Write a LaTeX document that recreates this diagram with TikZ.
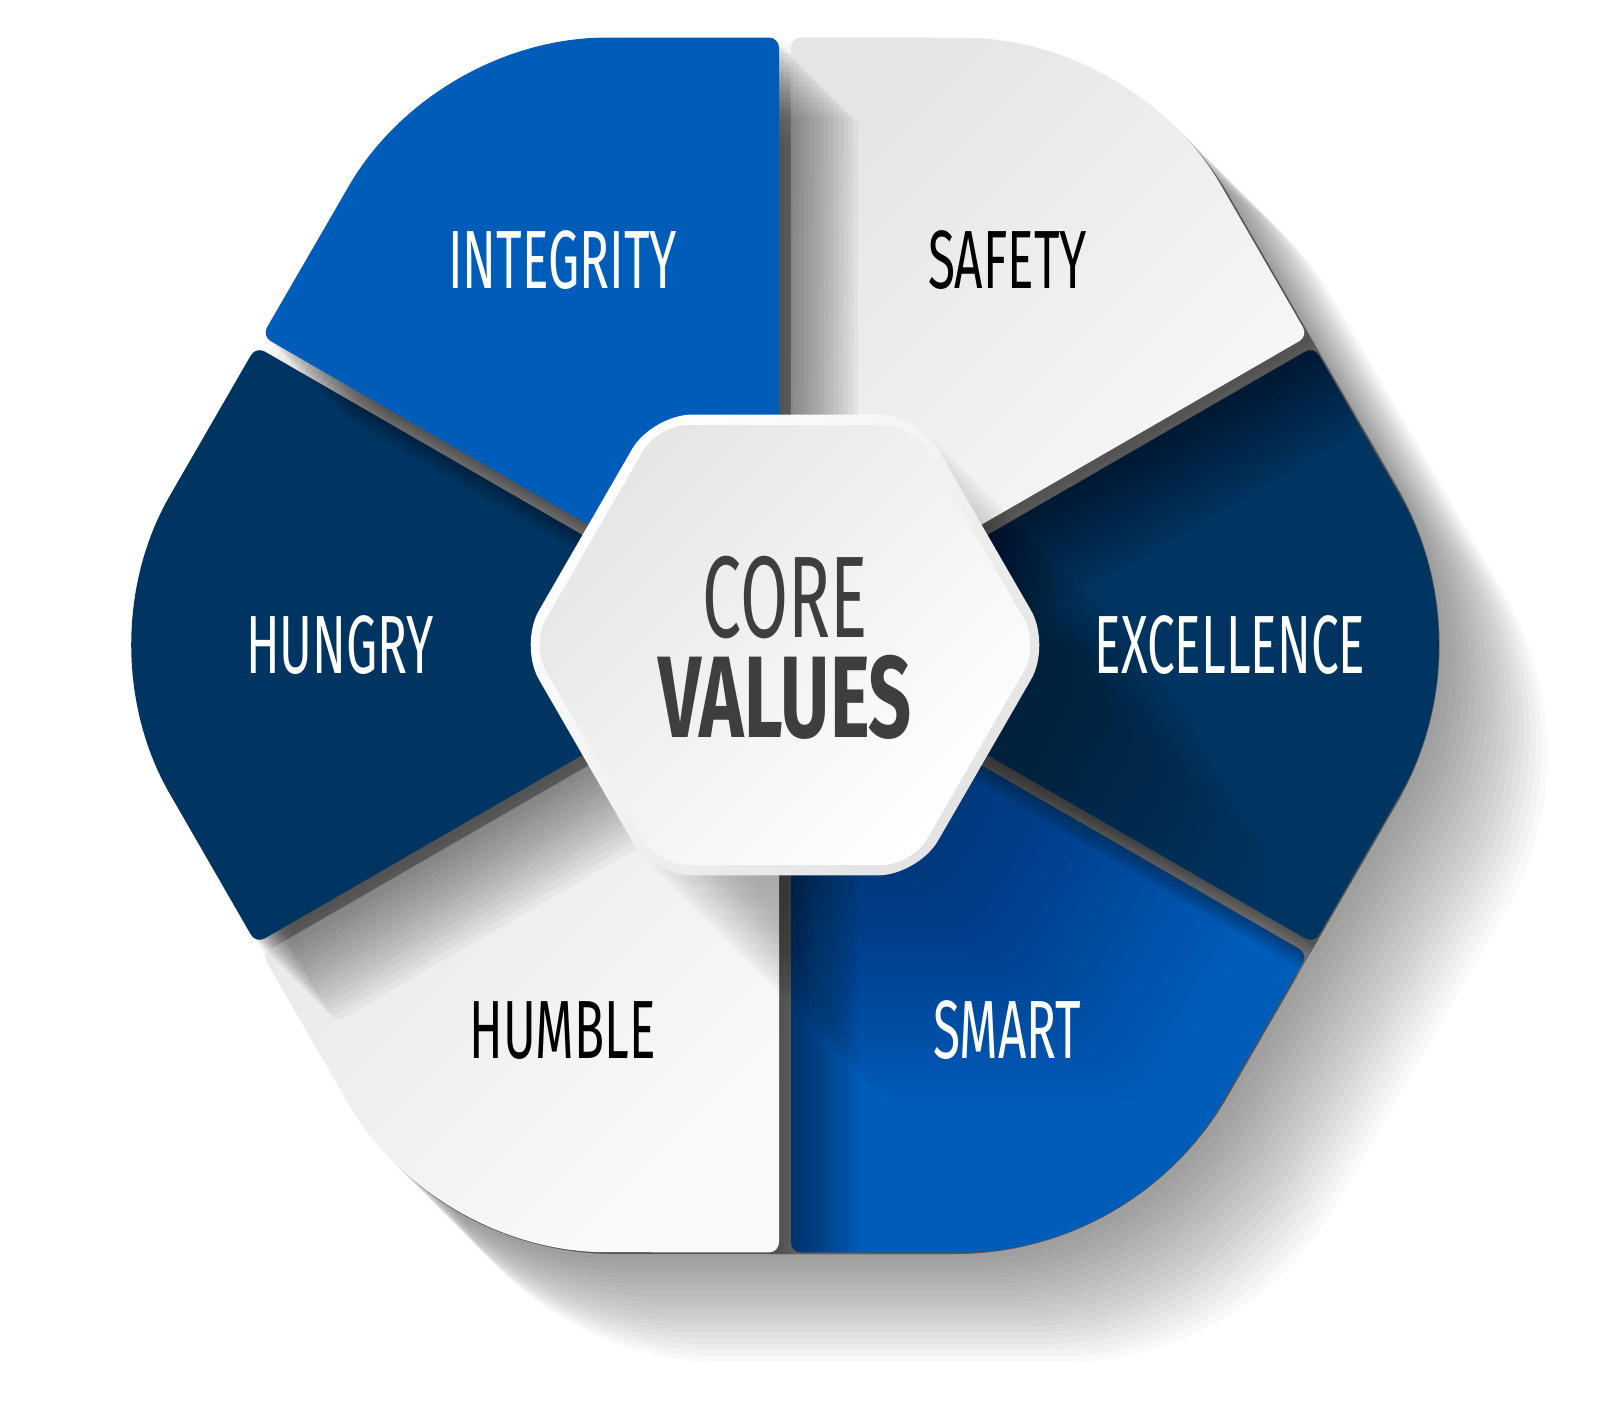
\documentclass[tikz,border=0pt]{standalone}
\usepackage{fontspec}
\newfontfamily\labelfont{Fira Sans}[FakeStretch=0.6]
\newfontfamily\valuefont{Fira Sans}[FakeStretch=0.65]

\definecolor{segblue}{HTML}{005CB9}
\definecolor{segnavy}{HTML}{003461}
\definecolor{coretext}{HTML}{3E3E40}

\begin{document}
\begin{tikzpicture}[
    bluefill/.style={fill=segblue},
    navyfill/.style={fill=segnavy},
    lightfill/.style={top color=black!10, bottom color=black!2, shading angle=45},
    shadowcopy/.style={black, opacity=0.035},
    seglabel/.style={font=\labelfont\fontsize{23.5}{26}\selectfont, inner sep=0pt},
    corelabel/.style={font=\labelfont\fontsize{33}{36}\selectfont, text=coretext, inner sep=0pt}
]
    \path[use as bounding box, fill=white] (-7.85,-7.76) rectangle (8.15,6.45);

    % Long shadow of the whole ring
    \foreach \s in {1,...,18}
        \fill[black, opacity=0.022, shift={(-45:\s*0.085)}]
            (-30:6.09) \foreach \t in {0,60,...,300} {
                -- ++(\t+60:1.697) arc[start angle=\t-30, end angle=\t+30, radius=3.15]
                -- (\t+30:6.09) } -- cycle;

    % Six segments, lowest first
    \begin{scope}
        \clip (-30:6.09) \foreach \t in {0,60,...,300} {
                -- ++(\t+60:1.697) arc[start angle=\t-30, end angle=\t+30, radius=3.15]
                -- (\t+30:6.09) } -- cycle;
        \foreach \t/\sty in {-60/bluefill, 0/navyfill, -120/lightfill,
                             60/lightfill, 180/navyfill, 120/bluefill} {
            \begin{scope}[shift={(\t:0.12)}]
                % segment shadow
                \foreach \s in {1,...,16}
                    \fill[shadowcopy, shift={(-45:\s*0.07)}, rounded corners=1mm]
                        (0,0) -- (\t-30:5.97) -- ++(\t+60:1.626)
                        arc[start angle=\t-30, end angle=\t+30, radius=3.15]
                        -- (\t+30:5.97) -- cycle;
                \path[\sty, rounded corners=1mm]
                    (0,0) -- (\t-30:5.97) -- ++(\t+60:1.626)
                    arc[start angle=\t-30, end angle=\t+30, radius=3.15]
                    -- (\t+30:5.97) -- cycle;
            \end{scope}
        }

        % Shadow of the centre hexagon
        \foreach \s in {1,...,20}
            \fill[black, opacity=0.016, shift={(-45:\s*0.16)}, rounded corners=3mm]
                (0:2.66) -- (60:2.66) -- (120:2.66) -- (180:2.66) -- (240:2.66) -- (300:2.66) -- cycle;
    \end{scope}

    % Labels of the segments
    \foreach \t/\txt/\name/\lab in {
        120/white/integrity/INTEGRITY, 60/black/safety/SAFETY,
        0/white/excellence/EXCELLENCE, -60/white/smart/SMART,
        -120/black/humble/HUMBLE, 180/white/hungry/HUNGRY}
        \node[seglabel, text=\txt] (\name) at (\t:4.45) {\lab};

    % Centre hexagon
    \shade[top color=white, bottom color=black!11, shading angle=45, rounded corners=4mm]
        (0:2.66) -- (60:2.66) -- (120:2.66) -- (180:2.66) -- (240:2.66) -- (300:2.66) -- cycle;
    \shade[top color=black!10, bottom color=white, shading angle=45, rounded corners=3mm]
        (0:2.54) -- (60:2.54) -- (120:2.54) -- (180:2.54) -- (240:2.54) -- (300:2.54) -- cycle;

    \node[corelabel] (core) at (0,0.47) {CORE};
    \node[corelabel, font=\valuefont\bfseries\fontsize{33}{36}\selectfont] (values) at (0,-0.52) {VALUES};
\end{tikzpicture}
\end{document}
